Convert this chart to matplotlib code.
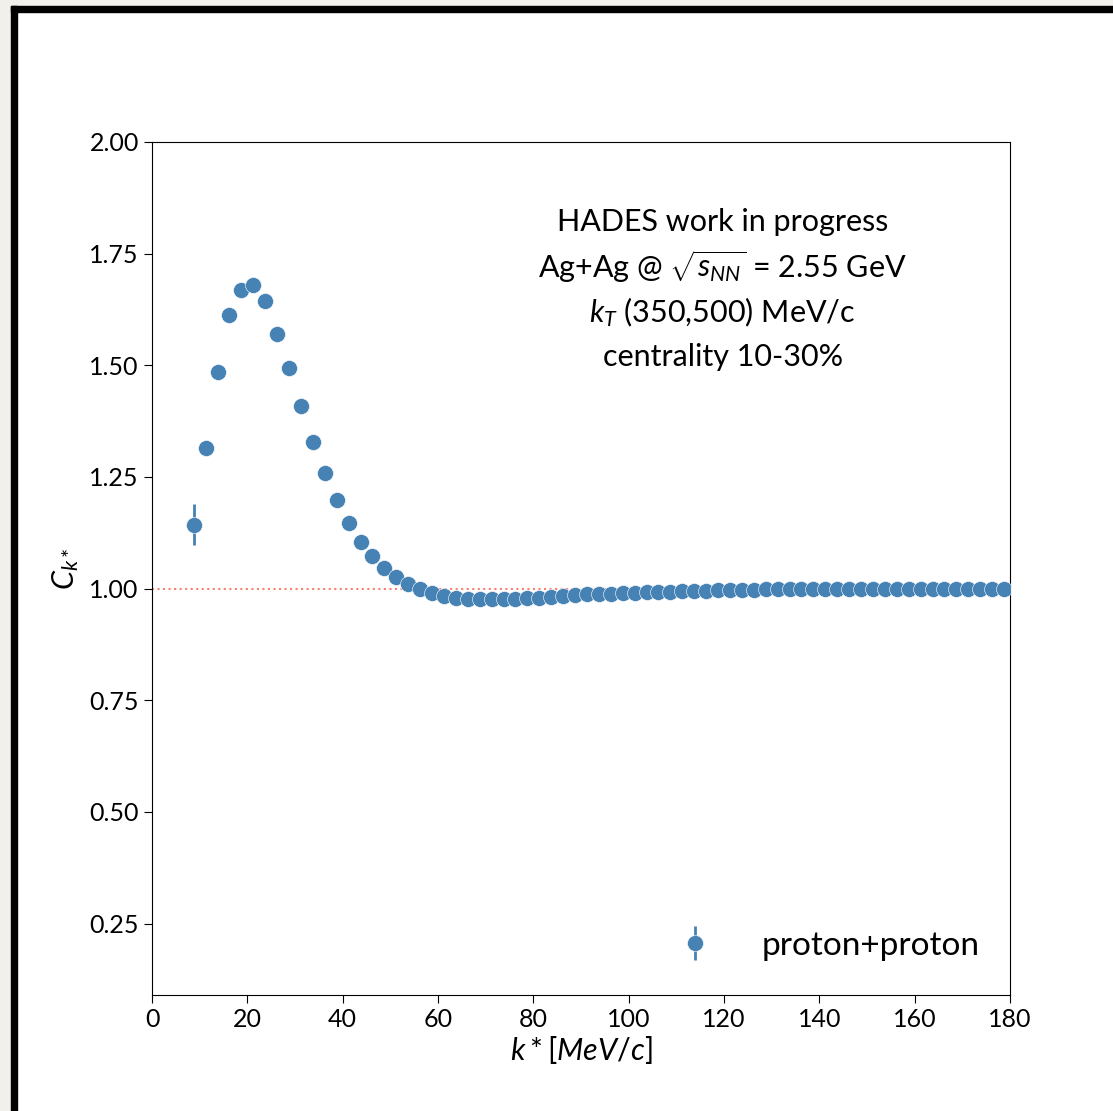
import numpy as np
import matplotlib
matplotlib.use('Agg')
import matplotlib.pyplot as plt
from matplotlib.patches import Rectangle
from matplotlib.ticker import FormatStrFormatter

plt.rcParams['font.family'] = ['Lato', 'DejaVu Sans']
plt.rcParams['mathtext.fontset'] = 'custom'
plt.rcParams['mathtext.rm'] = 'Lato'
plt.rcParams['mathtext.it'] = 'Lato:italic'
plt.rcParams['mathtext.bf'] = 'Lato:bold'

# k* bin centres [MeV/c]
kstar = np.arange(8.75, 180, 2.5)

# correlation function values
ck = [1.143, 1.315, 1.484, 1.613, 1.669, 1.679, 1.644, 1.570, 1.494, 1.409,
      1.328, 1.259, 1.198, 1.147, 1.105, 1.072, 1.046, 1.025, 1.010, 0.998,
      0.990, 0.983,
      0.979, 0.977, 0.976, 0.976, 0.976, 0.977, 0.978, 0.980, 0.982, 0.984,
      0.985, 0.987, 0.988, 0.989, 0.990, 0.991, 0.992, 0.993, 0.993, 0.994,
      0.995, 0.995, 0.996, 0.996, 0.997, 0.997, 0.998, 0.998, 0.998, 0.998,
      0.999, 0.999, 0.999, 0.999, 0.999, 0.999, 1.000,
      1.000, 1.000, 1.000, 1.000, 1.000, 1.000, 1.000, 1.000, 1.000, 1.000]
ck_err = [0.046, 0.012, 0.010, 0.009, 0.008, 0.007, 0.006, 0.005, 0.005, 0.004] + [0.004] * 59

xticks = [0, 20, 40, 60, 80, 100, 120, 140, 160, 180]
yticks = [0.25, 0.50, 0.75, 1.00, 1.25, 1.50, 1.75, 2.00]

info_lines = ['HADES work in progress',
              'Ag+Ag @ $\\sqrt{s_{NN}}$ = 2.55 GeV',
              '$k_T$ (350,500) MeV/c',
              'centrality 10-30%']

fig = plt.figure(figsize=(11.13, 11.11), dpi=100)

# slide frame: beige margin and black border on left/top
W, H = 1113, 1111
fig.patches.append(Rectangle((0, 0), 11 / W, 1, transform=fig.transFigure,
                             color='#F2F0EA', zorder=0))
fig.patches.append(Rectangle((0, 1 - 6 / H), 1, 6 / H, transform=fig.transFigure,
                             color='#F2F0EA', zorder=0))
fig.patches.append(Rectangle((11 / W, 0), 6 / W, 1 - 6 / H, transform=fig.transFigure,
                             color='black', zorder=1))
fig.patches.append(Rectangle((11 / W, 1 - 12 / H), 1 - 11 / W, 6 / H,
                             transform=fig.transFigure, color='black', zorder=1))

ax = fig.add_axes([152 / W, 1 - 995 / H, 858 / W, 853 / H])

ax.plot([0, 180], [1, 1], ls=':', color='#FA8072', lw=1.5, zorder=1)
ax.errorbar(kstar, ck, yerr=ck_err, fmt='o', color='#4682B4', ms=11.5,
            elinewidth=2, mec='white', mew=0.4, label='proton+proton', zorder=3)

ax.set_xlim(0, 180)
ax.set_ylim(0.09, 2.0)
ax.set_xticks(xticks)
ax.set_yticks(yticks)
ax.yaxis.set_major_formatter(FormatStrFormatter('%.2f'))
ax.tick_params(labelsize=18, length=6)

ax.set_xlabel('$k*[MeV/c]$', fontsize=22, labelpad=2)
ax.set_ylabel('$C_{k*}$', fontsize=22, labelpad=6)

# annotation block, one line at a time for even spacing
for i, line in enumerate(info_lines):
    ax.text(0.665, 0.906 - i * 0.0525, line, transform=ax.transAxes,
            ha='center', va='center', fontsize=22)

ax.legend(loc='lower right', fontsize=24, frameon=False, handletextpad=1.0,
          bbox_to_anchor=(1.0, 0.005))

fig.savefig('out.png', dpi=100)
